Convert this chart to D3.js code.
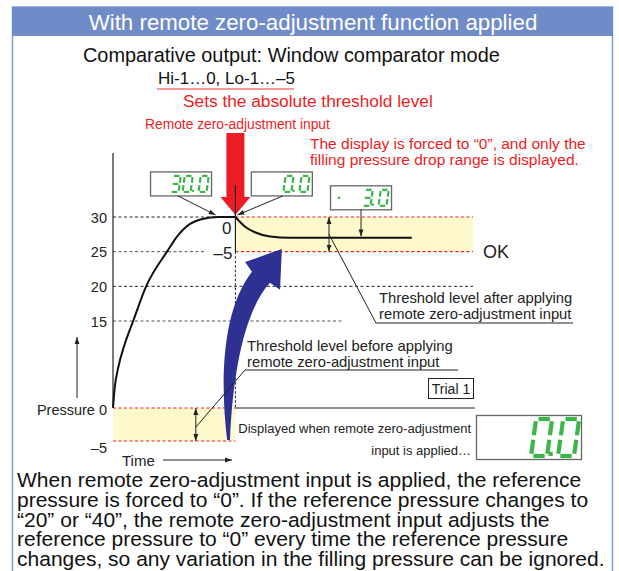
<!DOCTYPE html>
<html>
<head>
<meta charset="utf-8">
<script src="https://cdn.jsdelivr.net/npm/d3@7"></script>
<style>
  body { margin: 0; background: #fff; }
  svg { display: block; font-family: "Liberation Sans", Arial, sans-serif; }
</style>
</head>
<body>
<div id="chart"></div>
<script>
// ---- data ----
const title = "With remote zero-adjustment function applied";
const subtitle = "Comparative output: Window comparator mode";
const setting = "Hi-1…0, Lo-1…–5";
const yTicks = [30, 25, 20, 15, 0, -5];
const yTickLabels = ["30", "25", "20", "15", "Pressure 0", "–5"];
const tAdjust = 3.4;
const tEnd = 10;
// pressure before zero-adjustment (time, pressure)
const riseCurve = [[0, 0], [0.047, 3.45], [0.15, 7.1], [0.32, 10.9], [0.56, 15], [0.92, 20], [1.5, 25],
                   [1.8, 27.3], [2.14, 29.0], [2.4, 29.6], [2.9, 30], [3.4, 30]];
// pressure after zero-adjustment (absolute, displayed relative to 30)
const dropCurve = [[3.4, 30], [3.67, 28.6], [3.94, 27.8], [4.36, 27.2], [4.92, 27], [8.3, 27]];
const windowAfter = [25, 30];
const windowBefore = [-5, 0];
const displays = [
  { value: "30.0", t: 1.89, p: 36.5 },
  { value: "0.0",  t: 4.69, p: 36.5 },
  { value: "-3.0", t: 6.89, p: 34.5 },
];
const bottomText = [
  "When remote zero-adjustment input is applied, the reference",
  "pressure is forced to “0”. If the reference pressure changes to",
  "“20” or “40”, the remote zero-adjustment input adjusts the",
  "reference pressure to “0” every time the reference pressure",
  "changes, so any variation in the filling pressure can be ignored."
];
// blue swoosh outline in (time, pressure) units
const blueArrow = [[3.17, -4.85], [2.97, 4.83], [3.03, 16.6], [3.86, 22.1], [3.67, 23.5], [4.69, 25.4],
                   [4.64, 19.5], [4.36, 20.5], [3.67, 16.6], [3.33, 6.55], [3.25, -4.85]];

const W = 619, H = 571;
const RED = "#ed1c24", GREEN = "#3cb54a", NAVY = "#2e3192", YEL = "#fef9cc";

const svg = d3.select("#chart").append("svg").attr("width", W).attr("height", H);
const defs = svg.append("defs");
function marker(id, size) {
  defs.append("marker").attr("id", id).attr("viewBox", "0 0 10 10")
    .attr("refX", 10).attr("refY", 5).attr("markerWidth", size).attr("markerHeight", size)
    .attr("orient", "auto-start-reverse").attr("markerUnits", "userSpaceOnUse")
    .append("path").attr("d", "M0,1.5 L10,5 L0,8.5 Z").attr("fill", "#222");
}
marker("ah", 7);

// frame + header
svg.append("rect").attr("x", 12.5).attr("y", 7).attr("width", 600).attr("height", 600)
  .attr("fill", "none").attr("stroke", "#7f9bd6").attr("stroke-width", 1.5);
svg.append("rect").attr("x", 12).attr("y", 7).attr("width", 601).attr("height", 29).attr("fill", "#6f8cc9");
svg.append("text").attr("x", 313).attr("y", 29.5).attr("text-anchor", "middle")
  .attr("fill", "#fff").attr("font-size", 22.3).text(title);

svg.append("text").attr("x", 83).attr("y", 62).attr("font-size", 19.9).attr("fill", "#111").text(subtitle);
svg.append("text").attr("x", 158).attr("y", 84).attr("font-size", 17).attr("fill", "#111").text(setting);
svg.append("line").attr("x1", 157).attr("x2", 294).attr("y1", 89).attr("y2", 89)
  .attr("stroke", "#f07878").attr("stroke-width", 1.5);
svg.append("text").attr("x", 183).attr("y", 107).attr("font-size", 17.3).attr("fill", RED)
  .text("Sets the absolute threshold level");
svg.append("text").attr("x", 145).attr("y", 129).attr("font-size", 13.8).attr("fill", RED)
  .text("Remote zero-adjustment input");
svg.append("text").attr("x", 310).attr("y", 149).attr("font-size", 15.5).attr("fill", RED)
  .text("The display is forced to “0”, and only the");
svg.append("text").attr("x", 310).attr("y", 165).attr("font-size", 15.5).attr("fill", RED)
  .text("filling pressure drop range is displayed.");

// ---- scales ----
const x = d3.scaleLinear().domain([0, tEnd]).range([113, 473]);
const y = d3.scaleLinear().domain([-5, 0, 15, 30]).range([441, 408, 321, 217]);

const plot = svg.append("g");

// yellow windows
plot.append("rect").attr("x", x(tAdjust)).attr("y", y(windowAfter[1]))
  .attr("width", x(tEnd) - x(tAdjust)).attr("height", y(windowAfter[0]) - y(windowAfter[1])).attr("fill", YEL);
plot.append("rect").attr("x", x(0)).attr("y", y(windowBefore[1]))
  .attr("width", x(tAdjust) - x(0)).attr("height", y(windowBefore[0]) - y(windowBefore[1])).attr("fill", YEL);

// grid lines
const grid = [
  { p: 30, t0: 0, t1: tAdjust, c: "#222" },
  { p: 25, t0: 0, t1: 2.55, c: "#555" },
  { p: 20, t0: 0, t1: tEnd, c: "#222" },
  { p: 15, t0: 0, t1: 6.4, c: "#555" },
];
plot.selectAll(".grid").data(grid).enter().append("line").attr("class", "grid")
  .attr("x1", d => x(d.t0)).attr("x2", d => x(d.t1)).attr("y1", d => y(d.p)).attr("y2", d => y(d.p))
  .attr("stroke", d => d.c).attr("stroke-width", 1).attr("stroke-dasharray", "3,2.5");

// red window limits
const redLines = [
  { p: windowAfter[1], t0: tAdjust, t1: tEnd },
  { p: windowAfter[0], t0: tAdjust, t1: tEnd },
  { p: windowBefore[1], t0: 0, t1: tAdjust },
  { p: windowBefore[0], t0: 0, t1: tAdjust },
];
plot.selectAll(".red").data(redLines).enter().append("line").attr("class", "red")
  .attr("x1", d => x(d.t0)).attr("x2", d => x(d.t1)).attr("y1", d => y(d.p)).attr("y2", d => y(d.p))
  .attr("stroke", RED).attr("stroke-width", 1.1).attr("stroke-dasharray", "3,2.5");

// baseline after adjust
plot.append("line").attr("x1", x(tAdjust)).attr("x2", x(tEnd) + 2).attr("y1", y(0)).attr("y2", y(0))
  .attr("stroke", "#222").attr("stroke-width", 1.2);

// axis
plot.append("line").attr("x1", x(0)).attr("x2", x(0)).attr("y1", 153).attr("y2", y(0))
  .attr("stroke", "#222").attr("stroke-width", 1.2);
const yAxis = d3.axisLeft(y).tickValues(yTicks).tickSize(0).tickPadding(6)
  .tickFormat((d, i) => yTickLabels[i]);
const ax = svg.append("g").attr("transform", `translate(${x(0)},0)`).call(yAxis);
ax.select(".domain").remove();
ax.selectAll("text").attr("font-size", 14.5).attr("fill", "#222")
  .attr("font-family", "Liberation Sans, Arial, sans-serif")
  .attr("dy", d => d === -5 ? "0.8em" : (d === 0 ? "0.45em" : "0.35em"));

// vertical at adjust time
plot.append("line").attr("x1", x(tAdjust)).attr("x2", x(tAdjust)).attr("y1", 185).attr("y2", y(25))
  .attr("stroke", "#222").attr("stroke-width", 1.2);
plot.append("line").attr("x1", x(tAdjust)).attr("x2", x(tAdjust)).attr("y1", y(25)).attr("y2", y(0))
  .attr("stroke", "#222").attr("stroke-width", 1).attr("stroke-dasharray", "2.5,2");

// blue swoosh
const bp = blueArrow.map(d => [x(d[0]), y(d[1])]);
const sw = d3.path();
sw.moveTo(...bp[0]);
sw.bezierCurveTo(...bp[1], ...bp[2], ...bp[3]);
sw.lineTo(...bp[4]); sw.lineTo(...bp[5]); sw.lineTo(...bp[6]); sw.lineTo(...bp[7]);
sw.bezierCurveTo(...bp[8], ...bp[9], ...bp[10]);
sw.closePath();
plot.append("path").attr("d", sw.toString()).attr("fill", NAVY);

// pressure curves
const line = d3.line().x(d => x(d[0])).y(d => y(d[1])).curve(d3.curveMonotoneX);
plot.append("path").attr("d", line(riseCurve)).attr("fill", "none").attr("stroke", "#111").attr("stroke-width", 2);
plot.append("path").attr("d", line(dropCurve)).attr("fill", "none").attr("stroke", "#111").attr("stroke-width", 2);

// labels in chart
svg.append("text").attr("x", x(tAdjust) - 4).attr("y", y(30) + 17).attr("text-anchor", "end")
  .attr("font-size", 17).attr("fill", "#222").text("0");
svg.append("text").attr("x", x(tAdjust) - 3).attr("y", y(25) + 7).attr("text-anchor", "end")
  .attr("font-size", 17).attr("fill", "#222").text("–5");
svg.append("text").attr("x", 483).attr("y", y(25) + 6).attr("font-size", 18).attr("fill", "#222").text("OK");
svg.append("text").attr("x", 122).attr("y", 466).attr("font-size", 15).attr("fill", "#222").text("Time");
svg.append("line").attr("x1", 163).attr("x2", 232).attr("y1", 460).attr("y2", 460)
  .attr("stroke", "#222").attr("stroke-width", 1).attr("marker-end", "url(#ah)");
svg.append("line").attr("x1", 77).attr("x2", 77).attr("y1", 398).attr("y2", 337)
  .attr("stroke", "#222").attr("stroke-width", 1).attr("marker-end", "url(#ah)");

// red input arrow
const ax0 = x(tAdjust), tipY = y(30) - 2;
const ra = d3.path();
ra.moveTo(ax0 - 9, 133); ra.lineTo(ax0 + 9, 133); ra.lineTo(ax0 + 9, tipY - 18);
ra.lineTo(ax0 + 15, tipY - 18); ra.lineTo(ax0, tipY); ra.lineTo(ax0 - 15, tipY - 18);
ra.lineTo(ax0 - 9, tipY - 18); ra.closePath();
svg.append("path").attr("d", ra.toString()).attr("fill", RED);
svg.append("line").attr("x1", ax0).attr("x2", ax0).attr("y1", 185).attr("y2", y(30))
  .attr("stroke", "#222").attr("stroke-width", 1.2);

// double arrows
const dbl = [{ t: 6.0, p0: 30, p1: 25 }, { t: 2.3, p0: 0, p1: -5 }];
svg.selectAll(".dbl").data(dbl).enter().append("line").attr("class", "dbl")
  .attr("x1", d => x(d.t)).attr("x2", d => x(d.t)).attr("y1", d => y(d.p0)).attr("y2", d => y(d.p1))
  .attr("stroke", "#222").attr("stroke-width", 1)
  .attr("marker-start", "url(#ah)").attr("marker-end", "url(#ah)");

// leader notes
function leader(pts, lines, tx, ty, fs) {
  svg.append("path").attr("d", d3.line()(pts)).attr("fill", "none").attr("stroke", "#222").attr("stroke-width", 1);
  lines.forEach((s, i) => svg.append("text").attr("x", tx).attr("y", ty + i * 16)
    .attr("font-size", fs).attr("fill", "#222").text(s));
}
leader([[x(6.0), y(27.5)], [376, 323], [573, 323]],
  ["Threshold level after applying", "remote zero-adjustment input"], 379, 303, 14.8);
leader([[x(2.3), y(-2.9)], [245, 370], [458, 370]],
  ["Threshold level before applying", "remote zero-adjustment input"], 247, 351, 14.8);

// trial box
svg.append("rect").attr("x", 428.5).attr("y", 378.5).attr("width", 45).attr("height", 20)
  .attr("fill", "#fff").attr("stroke", "#222").attr("stroke-width", 1);
svg.append("text").attr("x", 451).attr("y", 394).attr("text-anchor", "middle").attr("font-size", 14)
  .attr("fill", "#222").text("Trial 1");

svg.append("text").attr("x", 471).attr("y", 433).attr("text-anchor", "end").attr("font-size", 13)
  .attr("fill", "#222").text("Displayed when remote zero-adjustment");
svg.append("text").attr("x", 471).attr("y", 455).attr("text-anchor", "end").attr("font-size", 13)
  .attr("fill", "#222").text("input is applied…");

// ---- seven segment displays ----
const SEG = { "0": "abcdef", "3": "abcdg", "-": "g" };
function sevenSeg(g, str, right, top, h, w, th, adv, dotAdv, left) {
  const k = 0.14, gap = th * 0.55;
  const sk = (px, py) => [px + (h - py) * k, py];
  const ends = {
    a: [[0, 0], [w, 0]], b: [[w, 0], [w, h / 2]], c: [[w, h / 2], [w, h]],
    d: [[0, h], [w, h]], e: [[0, h / 2], [0, h]], f: [[0, 0], [0, h / 2]], g: [[0, h / 2], [w, h / 2]]
  };
  let cx = right;
  str.split("").reverse().forEach(ch => {
    if (ch === ".") {
      const p = sk(cx - dotAdv / 2 - th / 2, h - th);
      g.append("rect").attr("x", p[0]).attr("y", top + p[1]).attr("width", th).attr("height", th).attr("fill", GREEN);
      cx -= dotAdv;
      return;
    }
    let ox;
    if (ch === "-") { ox = left; } else { cx -= w; ox = cx; cx -= (adv - w); }
    SEG[ch].split("").forEach(s => {
      let [p0, p1] = ends[s];
      if (ch === "-") { p0 = [0, h / 2]; p1 = [w * 0.6, h / 2]; }
      const horiz = p0[1] === p1[1];
      const a = horiz ? [p0[0] + gap, p0[1]] : [p0[0], p0[1] + gap];
      const b = horiz ? [p1[0] - gap, p1[1]] : [p1[0], p1[1] - gap];
      const A = sk(...a), B = sk(...b);
      g.append("line").attr("x1", ox + A[0]).attr("y1", top + A[1]).attr("x2", ox + B[0]).attr("y2", top + B[1])
        .attr("stroke", GREEN).attr("stroke-width", th).attr("stroke-linecap", "butt");
    });
  });
}

const boxW = 61, boxH = 24;
displays.forEach(d => {
  const bx = x(d.t) - boxW / 2, by = y(d.p);
  svg.append("rect").attr("x", bx).attr("y", by).attr("width", boxW).attr("height", boxH)
    .attr("fill", "#fff").attr("stroke", "#666").attr("stroke-width", 1.3);
  sevenSeg(svg.append("g"), d.value, bx + boxW - 5, by + 4, 16, 8, 2.2, 12, 4, bx + 5);
});
// display leaders
const dl = [
  { from: [x(displays[0].t) - 3, y(displays[0].p) + boxH], to: [x(2.85), y(30) - 2] },
  { from: [x(displays[1].t) + 1, y(displays[1].p) + boxH], to: [x(tAdjust) + 2, y(30) - 2] },
  { from: [x(displays[2].t), y(displays[2].p) + boxH], to: [x(displays[2].t), y(27.2)] },
];
svg.selectAll(".dl").data(dl).enter().append("line").attr("class", "dl")
  .attr("x1", d => d.from[0]).attr("y1", d => d.from[1]).attr("x2", d => d.to[0]).attr("y2", d => d.to[1])
  .attr("stroke", "#222").attr("stroke-width", 1).attr("marker-end", "url(#ah)");

// big display
svg.append("rect").attr("x", 476.5).attr("y", 415.5).attr("width", 105).attr("height", 44)
  .attr("fill", "#fff").attr("stroke", "#666").attr("stroke-width", 1.3);
sevenSeg(svg.append("g"), "0.0", 574, 419, 37, 16, 4.2, 21, 6, 480);

// bottom paragraph (reference face is slightly wider than Liberation Sans)
svg.append("g").attr("transform", "translate(17,0) scale(1.078,1)")
  .selectAll("text").data(bottomText).enter().append("text")
  .attr("x", 0).attr("y", (d, i) => 487 + i * 19.8).attr("font-size", 19.5).attr("fill", "#111").text(d => d);
</script>
</body>
</html>
